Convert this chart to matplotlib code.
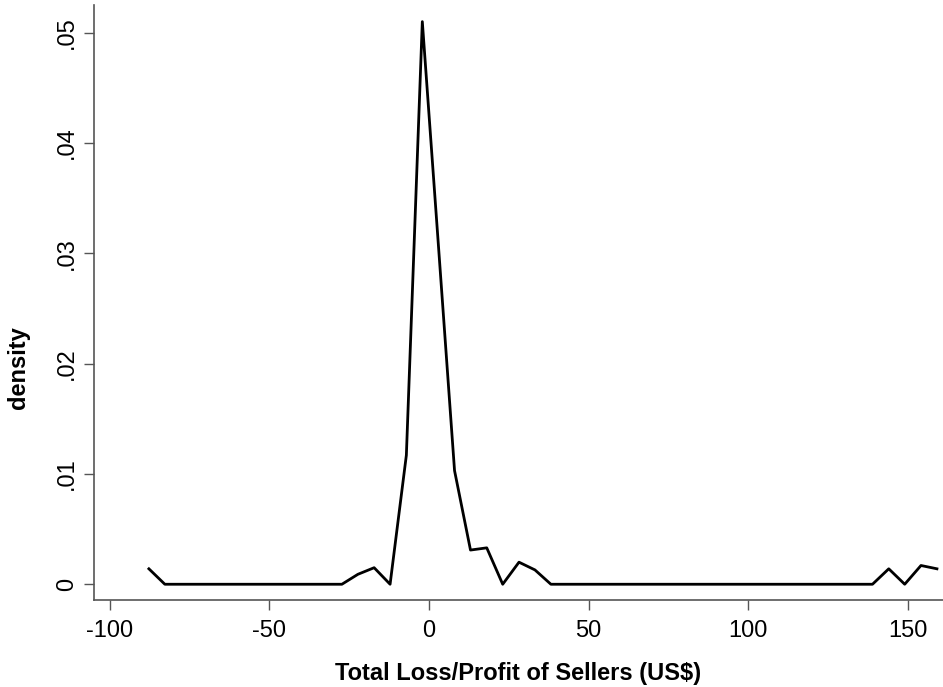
import matplotlib
matplotlib.use("Agg")
import matplotlib.pyplot as plt

plt.rcParams['font.family'] = ['Liberation Sans', 'DejaVu Sans']

# midpoints of the density bins (US$)
profit = [-87.8, -82.8, -77.7, -72.7, -67.6, -62.6, -57.6, -52.5, -47.5, -42.5,
          -37.4, -32.4, -27.3, -22.3, -17.2, -12.2, -7.1, -2.1, 3.0, 8.0,
          13.0, 18.1, 23.1, 28.2, 33.2, 38.2, 43.3, 48.3, 53.4, 58.4,
          63.4, 68.5, 73.5, 78.6, 83.6, 88.6, 93.7, 98.7, 103.8, 108.8,
          113.8, 118.9, 123.9, 129.0, 134.0, 139.0, 144.1, 149.1, 154.2, 159.2]
density = [0.0014, 0, 0, 0, 0, 0, 0, 0, 0, 0,
           0, 0, 0, 0.0009, 0.0015, 0, 0.0117, 0.0510, 0.0305, 0.0103,
           0.0031, 0.0033, 0, 0.0020, 0.0013, 0, 0, 0, 0, 0,
           0, 0, 0, 0, 0, 0, 0, 0, 0, 0,
           0, 0, 0, 0, 0, 0, 0.0014, 0, 0.0017, 0.0014]

xticks = [-100, -50, 0, 50, 100, 150]
yticks = [0, 0.01, 0.02, 0.03, 0.04, 0.05]
ytick_labels = ['0', '.01', '.02', '.03', '.04', '.05']

fig = plt.figure(figsize=(9.43, 6.87), dpi=100)
ax = fig.add_axes([0.0997, 0.1266, 0.9003, 0.866])

ax.plot(profit, density, color='black', lw=2.0)

ax.set_xlim(-105, 161.1)
ax.set_ylim(-0.00143, 0.0525)
ax.set_xticks(xticks)
ax.set_xticklabels([str(t) for t in xticks])
ax.set_yticks(yticks)
ax.set_yticklabels(ytick_labels, rotation=90, va='center')

for side in ['top', 'right']:
    ax.spines[side].set_visible(False)
for side in ['left', 'bottom']:
    ax.spines[side].set_color('#555555')
    ax.spines[side].set_linewidth(1.2)
ax.tick_params(length=7.5, width=1.0, color='#555555', labelsize=17)
ax.tick_params(axis='x', pad=7)
ax.tick_params(axis='y', pad=4)

ax.set_xlabel('Total Loss/Profit of Sellers (US$)', fontsize=17, fontweight='bold')
ax.set_ylabel('density', fontsize=17, fontweight='bold')
ax.xaxis.set_label_coords(0.5, -0.104)
ax.yaxis.set_label_coords(-0.075, 0.39)

fig.savefig('out.png', dpi=100)
